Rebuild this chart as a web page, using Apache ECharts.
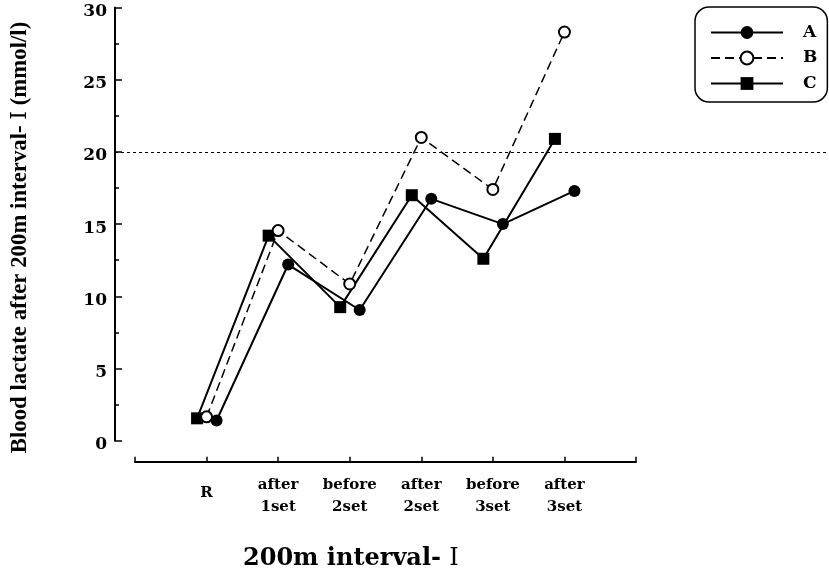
<!DOCTYPE html>
<html>
<head>
<meta charset="utf-8">
<script src="https://cdn.jsdelivr.net/npm/echarts@6/dist/echarts.min.js"></script>
<style>
html,body{margin:0;padding:0;background:#fff;}
#chart{width:829px;height:578px;}
</style>
</head>
<body>
<div id="chart"></div>
<script>
// ---- data ----
const categories = ['R', 'after\n1set', 'before\n2set', 'after\n2set', 'before\n3set', 'after\n3set'];
const seriesA = [1.4, 12.2, 9.05, 16.75, 15.0, 17.3];
const seriesB = [1.65, 14.55, 10.85, 21.0, 17.4, 28.3];
const seriesC = [1.55, 14.2, 9.25, 17.0, 12.6, 20.9];
const seriesNames = ['A', 'B', 'C'];
const yMin = 0, yMax = 30, yStep = 5;
const referenceLevel = 20;
const yTitleMain = 'Blood lactate after 200m interval- ';
const yTitleNum = 'Ⅰ';
const yTitleUnit = ' (mmol/l)';
const xTitleMain = '200m interval- ';
const xTitleNum = 'Ⅰ';

// ---- chart ----
const serif = "'DejaVu Serif', 'Liberation Serif', serif";
const chart = echarts.init(document.getElementById('chart'), null, {renderer: 'canvas'});
const toPoints = arr => categories.map((c, i) => [i, arr[i]]);
const gTop = 7.5, gBottom = 137.3;

const hiddenX = (g) => ({type: 'value', gridIndex: g, min: -1, max: categories.length, show: false});
const hiddenY = (g) => ({type: 'value', gridIndex: g, min: yMin, max: yMax, show: false});

const option = {
  animation: false,
  backgroundColor: '#fff',
  grid: [
    {left: 135, right: 193, top: gTop, bottom: gBottom},
    {left: 145, right: 183, top: gTop, bottom: gBottom},
    {left: 125.5, right: 202.5, top: gTop, bottom: gBottom},
    {left: 115, right: 1, top: gTop, bottom: gBottom}
  ],
  xAxis: [
    {
      type: 'value', gridIndex: 0, min: -1, max: categories.length, interval: 1,
      offset: 21,
      splitLine: {show: false},
      axisLine: {show: true, onZero: false, lineStyle: {color: '#000', width: 2}},
      axisTick: {show: true, inside: true, length: 5, lineStyle: {color: '#000', width: 1.5}},
      axisLabel: {
        margin: 12,
        color: '#000', fontFamily: serif, fontWeight: 'bold', fontSize: 15, lineHeight: 22,
        formatter: function (v) {
          const i = Math.round(v);
          if (i < 0 || i >= categories.length) return '';
          return i === 0 ? '{r|' + categories[0] + '}' : categories[i];
        },
        rich: {r: {fontFamily: serif, fontWeight: 'bold', fontSize: 15, lineHeight: 38, color: '#000'}}
      }
    },
    hiddenX(1), hiddenX(2),
    {type: 'value', gridIndex: 3, min: 0, max: 1, show: false}
  ],
  yAxis: [
    {
      type: 'value', gridIndex: 0, min: yMin, max: yMax, interval: yStep,
      offset: 20,
      splitLine: {show: false},
      axisLine: {show: true, onZero: false, lineStyle: {color: '#000', width: 2}},
      axisTick: {show: true, inside: true, length: 7, lineStyle: {color: '#000', width: 1.5}},
      minorTick: {show: true, splitNumber: 2, length: 4, lineStyle: {color: '#000', width: 1.5}},
      axisLabel: {
        margin: 8, verticalAlign: 'top', lineHeight: 8,
        color: '#000', fontFamily: serif, fontWeight: 'bold', fontSize: 17
      }
    },
    hiddenY(1), hiddenY(2), hiddenY(3)
  ],
  legend: {
    data: seriesNames,
    orient: 'vertical',
    left: 695, top: 7,
    padding: [17, 10, 10, 15],
    itemGap: 8.5, itemWidth: 72, itemHeight: 16,
    borderColor: '#000', borderWidth: 1.5, borderRadius: 14,
    textStyle: {color: '#000', fontFamily: serif, fontWeight: 'bold', fontSize: 17, lineHeight: 16, padding: [0, 0, 0, 15]}
  },
  graphic: [
    {
      type: 'text', x: 20.5, y: 237.5, rotation: Math.PI / 2,
      style: {
        text: '{b|' + yTitleMain + '}{n|' + yTitleNum + '}{b|' + yTitleUnit + '}',
        align: 'center', verticalAlign: 'middle',
        rich: {
          b: {fontFamily: "'Liberation Serif', serif", fontWeight: 'bold', fontSize: 22.8, fill: '#000', color: '#000'},
          n: {fontFamily: "'DejaVu Serif', 'Liberation Serif', serif", fontWeight: 'normal', fontSize: 22, fill: '#000', color: '#000'}
        }
      }
    },
    {
      type: 'text', x: 243, y: 559,
      style: {
        text: '{b|' + xTitleMain + '}{n|' + xTitleNum + '}',
        align: 'left', verticalAlign: 'middle',
        rich: {
          b: {fontFamily: serif, fontWeight: 'bold', fontSize: 24, fill: '#000', color: '#000'},
          n: {fontFamily: "'DejaVu Serif', 'Noto Sans CJK JP', serif", fontWeight: 'normal', fontSize: 24, fill: '#000', color: '#000'}
        }
      }
    }
  ],
  series: [
    {
      type: 'line', xAxisIndex: 3, yAxisIndex: 3, data: [], silent: true,
      markLine: {
        silent: true, symbol: ['none', 'none'], label: {show: false},
        lineStyle: {color: '#000', type: [3, 3], width: 1.2},
        data: [{yAxis: referenceLevel}]
      }
    },
    {
      name: 'C', type: 'line', xAxisIndex: 2, yAxisIndex: 2, data: toPoints(seriesC),
      symbol: 'rect', symbolSize: 12,
      lineStyle: {color: '#000', width: 2},
      itemStyle: {color: '#000'}
    },
    {
      name: 'B', type: 'line', xAxisIndex: 0, yAxisIndex: 0, data: toPoints(seriesB),
      symbol: 'emptyCircle', symbolSize: 11,
      lineStyle: {color: '#000', width: 1.5, type: [9, 5]},
      itemStyle: {color: '#000', borderWidth: 1.5}
    },
    {
      name: 'A', type: 'line', xAxisIndex: 1, yAxisIndex: 1, data: toPoints(seriesA),
      symbol: 'circle', symbolSize: 12,
      lineStyle: {color: '#000', width: 2},
      itemStyle: {color: '#000'}
    }
  ]
};
chart.setOption(option);
</script>
</body>
</html>
